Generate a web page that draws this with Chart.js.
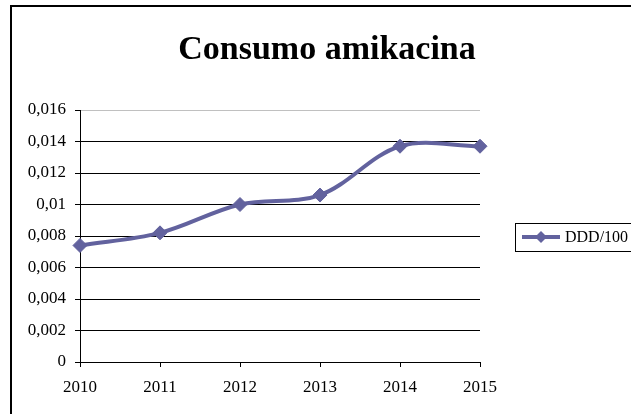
<!DOCTYPE html>
<html>
<head>
<meta charset="utf-8">
<script src="https://cdn.jsdelivr.net/npm/chart.js@4/dist/chart.umd.min.js"></script>
<style>
  html, body { margin: 0; padding: 0; background: #fff; overflow: hidden; }
  canvas { display: block; }
</style>
</head>
<body>
<canvas id="chart" width="631" height="414"></canvas>
<script>
// data
const title = 'Consumo amikacina'
const years = ['2010', '2011', '2012', '2013', '2014', '2015']
const seriesName = 'DDD/100'
const dddValues = [0.0074, 0.0082, 0.0100, 0.0106, 0.0137, 0.0137]
const yTicks = { min: 0, max: 0.016, step: 0.002 }

const lineColor = '#62629E'
const serif = '"Liberation Serif", "Times New Roman", serif'

// frame, title and boxed legend drawn like the spreadsheet original
const decorations = {
  id: 'decorations',
  beforeDraw(chart) {
    const ctx = chart.ctx
    ctx.save()
    ctx.fillStyle = '#fff'
    ctx.fillRect(0, 0, chart.width, chart.height)
    ctx.strokeStyle = '#000'
    ctx.lineWidth = 2
    ctx.strokeRect(11, 6, 700, 500)
    ctx.restore()
  },
  afterDraw(chart) {
    const ctx = chart.ctx
    ctx.save()
    ctx.fillStyle = '#000'
    ctx.font = 'bold 34px ' + serif
    ctx.textAlign = 'center'
    ctx.textBaseline = 'middle'
    ctx.fillText(title, 327, 50)

    // legend
    ctx.strokeStyle = '#000'
    ctx.lineWidth = 1
    ctx.strokeRect(515.5, 223.5, 130, 28)
    ctx.strokeStyle = lineColor
    ctx.lineWidth = 4
    ctx.beginPath()
    ctx.moveTo(522, 237)
    ctx.lineTo(560, 237)
    ctx.stroke()
    ctx.fillStyle = lineColor
    ctx.beginPath()
    ctx.moveTo(541, 231)
    ctx.lineTo(547, 237)
    ctx.lineTo(541, 243)
    ctx.lineTo(535, 237)
    ctx.closePath()
    ctx.fill()
    ctx.fillStyle = '#000'
    ctx.font = '16px ' + serif
    ctx.textAlign = 'left'
    ctx.textBaseline = 'middle'
    ctx.fillText(seriesName, 565, 238)
    ctx.restore()
  }
}

/* eslint-disable no-magic-numbers, no-new */
new Chart(document.getElementById('chart'), {
  type: 'line',
  data: {
    labels: years,
    datasets: [{
      label: seriesName,
      data: dddValues,
      borderColor: lineColor,
      backgroundColor: lineColor,
      borderWidth: 4,
      tension: 0.35,
      pointStyle: 'rectRot',
      pointRadius: 7,
      pointBorderWidth: 1,
      pointBackgroundColor: lineColor,
      pointBorderColor: lineColor
    }]
  },
  options: {
    responsive: false,
    devicePixelRatio: 1,
    animation: false,
    layout: {
      padding: { left: 0, top: 110, right: 151, bottom: 0 }
    },
    plugins: {
      legend: { display: false },
      title: { display: false },
      tooltip: { enabled: false }
    },
    scales: {
      x: {
        offset: false,
        grid: {
          drawOnChartArea: false,
          drawTicks: true,
          tickLength: 5,
          color: '#000'
        },
        border: { display: true, color: '#000', width: 1 },
        ticks: {
          color: '#000',
          padding: 10,
          maxRotation: 0,
          font: { family: serif, size: 17 }
        },
        afterFit(scale) {
          scale.height = 52
        }
      },
      y: {
        min: yTicks.min,
        max: yTicks.max,
        grid: {
          color: (c) => (c.tick && c.tick.value >= yTicks.max - 1e-9 ? '#c0c0c0' : '#000'),
          tickColor: '#000',
          tickLength: 5,
          lineWidth: 1
        },
        border: { display: true, color: '#000', width: 1 },
        ticks: {
          stepSize: yTicks.step,
          color: '#000',
          padding: 9,
          font: { family: serif, size: 17 },
          callback: (v) => Number(v.toFixed(3)).toString().replace('.', ',')
        },
        afterFit(scale) {
          scale.width = 80
        }
      }
    }
  },
  plugins: [decorations]
})
/* eslint-enable no-magic-numbers, no-new */
</script>
</body>
</html>
